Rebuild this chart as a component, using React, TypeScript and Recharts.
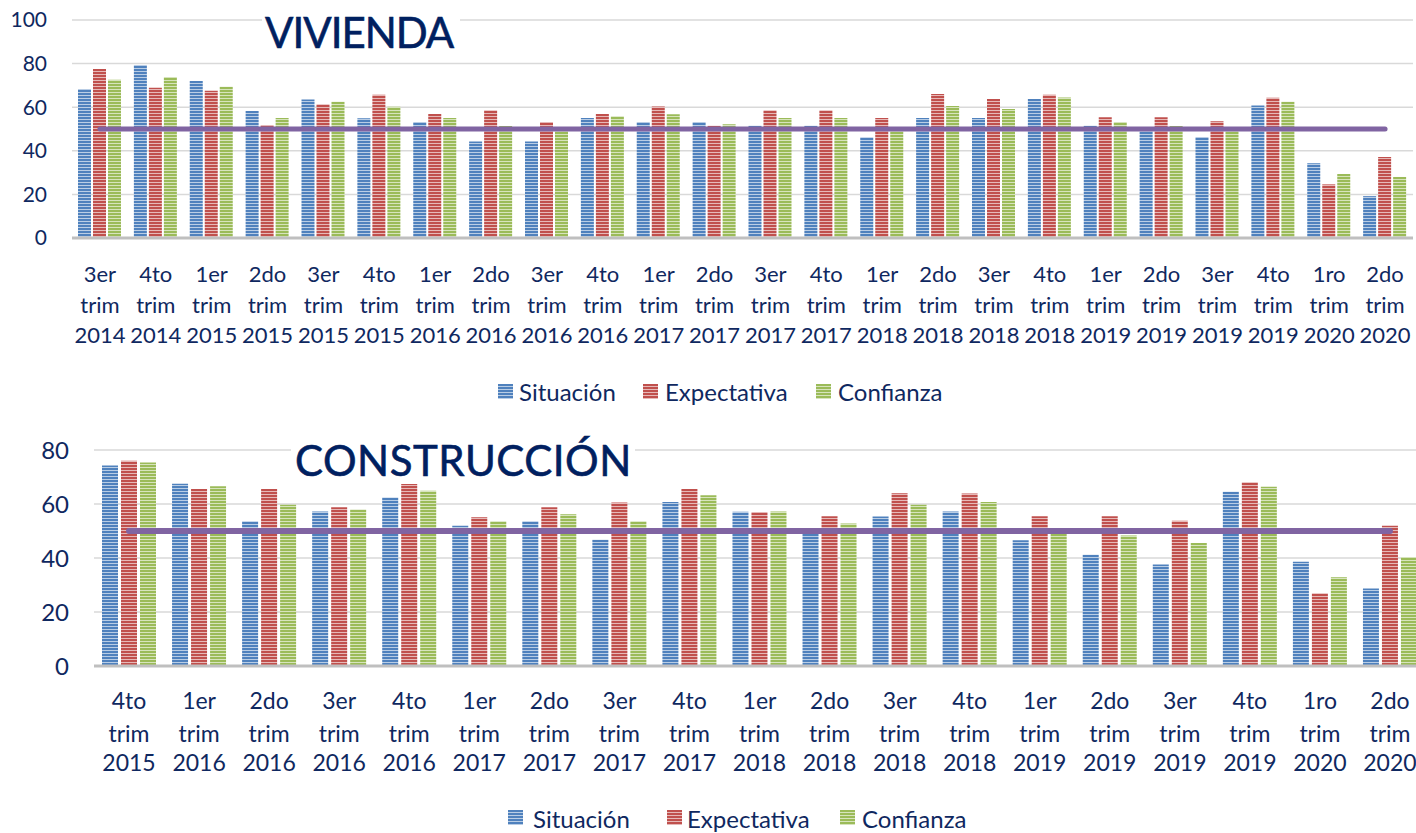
import React from 'react';
import { ComposedChart, Bar, Line, XAxis, YAxis, CartesianGrid } from 'recharts';

// ---------- DATA ----------
const viviendaCategorias = [
  '3er trim 2014', '4to trim 2014', '1er trim 2015', '2do trim 2015', '3er trim 2015', '4to trim 2015',
  '1er trim 2016', '2do trim 2016', '3er trim 2016', '4to trim 2016', '1er trim 2017', '2do trim 2017',
  '3er trim 2017', '4to trim 2017', '1er trim 2018', '2do trim 2018', '3er trim 2018', '4to trim 2018',
  '1er trim 2019', '2do trim 2019', '3er trim 2019', '4to trim 2019', '1ro trim 2020', '2do trim 2020',
];
const viviendaSituacion = [68.3, 79.4, 72.0, 58.3, 63.5, 54.9, 53.2, 44.3, 44.3, 55.1, 53.2, 53.2, 51.5, 51.5, 46.2, 55.1, 55.1, 63.8, 51.5, 49.0, 46.3, 60.8, 34.3, 19.2];
const viviendaExpectativa = [77.5, 68.9, 67.5, 51.8, 61.4, 65.7, 56.9, 58.6, 53.2, 56.9, 60.3, 51.5, 58.6, 58.6, 55.1, 66.0, 63.8, 65.7, 55.4, 55.4, 53.5, 64.3, 24.6, 37.1];
const viviendaConfianza = [72.6, 73.8, 69.4, 55.1, 62.5, 60.2, 55.1, 51.4, 49.0, 55.8, 56.8, 52.2, 55.1, 55.1, 49.0, 60.6, 59.2, 64.5, 53.2, 51.4, 49.0, 62.5, 29.4, 28.0];
const viviendaTicks = [0, 20, 40, 60, 80, 100];

const construccionCategorias = [
  '4to trim 2015', '1er trim 2016', '2do trim 2016', '3er trim 2016', '4to trim 2016', '1er trim 2017',
  '2do trim 2017', '3er trim 2017', '4to trim 2017', '1er trim 2018', '2do trim 2018', '3er trim 2018',
  '4to trim 2018', '1er trim 2019', '2do trim 2019', '3er trim 2019', '4to trim 2019', '1ro trim 2020',
  '2do trim 2020',
];
const construccionSituacion = [74.3, 67.5, 53.6, 57.2, 62.4, 51.9, 53.6, 46.8, 60.7, 57.1, 49.0, 55.4, 57.2, 46.6, 41.2, 37.6, 64.5, 38.6, 28.7];
const construccionExpectativa = [76.0, 65.6, 65.6, 58.8, 67.4, 55.1, 58.8, 60.6, 65.6, 57.0, 55.5, 64.0, 63.9, 55.5, 55.5, 53.8, 68.1, 26.9, 51.9];
const construccionConfianza = [75.4, 66.6, 59.7, 58.0, 64.9, 53.6, 56.2, 53.6, 63.2, 57.2, 52.8, 59.7, 60.7, 50.9, 48.3, 45.6, 66.4, 32.9, 40.4];
const construccionTicks = [0, 20, 40, 60, 80];

const seriesNombres = ['Situación', 'Expectativa', 'Confianza'];
const UMBRAL = 50;

// ---------- STYLE ----------
const FONT = "Lato, 'Open Sans', sans-serif";
const TEXT = '#0F2860';
const TITLE = '#002060';
const seriesColors = [
  { id: 'pB', base: '#4F81BD', light: '#B9CDE5' },
  { id: 'pR', base: '#C0504D', light: '#E6B9B8' },
  { id: 'pG', base: '#9BBB59', light: '#D7E4BD' },
];

const buildRows = (cats: string[], s: number[], e: number[], c: number[]) =>
  cats.map((cat, i) => ({ cat, s: s[i], e: e[i], c: c[i], umbral: UMBRAL }));

const viviendaRows = buildRows(viviendaCategorias, viviendaSituacion, viviendaExpectativa, viviendaConfianza);
const construccionRows = buildRows(construccionCategorias, construccionSituacion, construccionExpectativa, construccionConfianza);

const makeXTick = (fontSize: number, offsets: number[]) => (props: any) => {
  const { x, y, payload } = props;
  const parts = String(payload.value).split(' ');
  return (
    <text x={x} y={y} textAnchor="middle" fill={TEXT} fontSize={fontSize} fontFamily={FONT}>
      {parts.map((p, i) => (
        <tspan key={i} x={x} y={y + offsets[i]}>{p}</tspan>
      ))}
    </text>
  );
};

const viviendaTick = makeXTick(22, [44, 75, 105]);
const construccionTick = makeXTick(23, [43, 76, 105]);

function Legend({ markerX, textX, baseline, markerTop, size }: { markerX: number[]; textX: number[]; baseline: number; markerTop: number; size: number }) {
  return (
    <g>
      {seriesNombres.map((n, i) => (
        <g key={n}>
          <rect x={markerX[i]} y={markerTop} width={15} height={15} fill={`url(#${seriesColors[i].id})`} />
          <text x={textX[i]} y={baseline} fill={TEXT} fontSize={size} fontFamily={FONT}>{n}</text>
        </g>
      ))}
    </g>
  );
}

function Panel({ rows, ticks, domainMax, width, height, margin, yWidth, yFont, tick, barSize, barGap, lineWidth }: any) {
  return (
    <ComposedChart width={width} height={height} data={rows} margin={margin} barSize={barSize} barGap={barGap}>
      <CartesianGrid vertical={false} stroke="#D9D9D9" strokeWidth={1.5} />
      <XAxis
        dataKey="cat"
        interval={0}
        tickLine={false}
        tickSize={0}
        tickMargin={0}
        height={110}
        axisLine={{ stroke: '#BFBFBF', strokeWidth: 3 }}
        tick={tick}
      />
      <YAxis
        domain={[0, domainMax]}
        ticks={ticks}
        axisLine={false}
        tickLine={false}
        tickSize={0}
        tickMargin={25}
        width={yWidth}
        tick={{ fill: TEXT, fontSize: yFont, fontFamily: FONT }}
      />
      <Bar dataKey="s" name={seriesNombres[0]} fill="url(#pB)" isAnimationActive={false} />
      <Bar dataKey="e" name={seriesNombres[1]} fill="url(#pR)" isAnimationActive={false} />
      <Bar dataKey="c" name={seriesNombres[2]} fill="url(#pG)" isAnimationActive={false} />
      <Line
        dataKey="umbral"
        stroke="#8064A2"
        strokeWidth={lineWidth}
        strokeLinecap="round"
        dot={false}
        activeDot={false}
        isAnimationActive={false}
      />
    </ComposedChart>
  );
}

export default function App() {
  return (
    <div style={{ position: 'absolute', left: 0, top: 0, width: 1416, height: 833, background: '#fff', overflow: 'hidden', fontFamily: FONT }}>
      <svg width={0} height={0} style={{ position: 'absolute' }}>
        <defs>
          {seriesColors.map((c) => (
            <pattern key={c.id} id={c.id} patternUnits="userSpaceOnUse" width={8} height={3}>
              <rect x={0} y={0} width={8} height={3} fill={c.light} />
              <rect x={0} y={0} width={8} height={2} fill={c.base} />
            </pattern>
          ))}
        </defs>
      </svg>

      <div style={{ position: 'absolute', left: 0, top: 0 }}>
        <Panel
          rows={viviendaRows}
          ticks={viviendaTicks}
          domainMax={100}
          width={1416}
          height={360}
          margin={{ top: 20, right: 3, left: 0, bottom: 12 }}
          yWidth={72}
          yFont={21}
          tick={viviendaTick}
          barSize={13}
          barGap={2}
          lineWidth={5}
        />
      </div>

      <div style={{ position: 'absolute', left: 0, top: 420, width: 1416, height: 413, overflow: 'hidden' }}>
        <Panel
          rows={construccionRows}
          ticks={construccionTicks}
          domainMax={80}
          width={1426}
          height={380}
          margin={{ top: 30, right: 1, left: 0, bottom: 24 }}
          yWidth={94}
          yFont={24}
          tick={construccionTick}
          barSize={16}
          barGap={3}
          lineWidth={6}
        />
      </div>

      <svg width={1416} height={833} style={{ position: 'absolute', left: 0, top: 0, pointerEvents: 'none' }}>
        <rect x={262} y={10} width={198} height={42} fill="#fff" />
        <text x={265} y={48} fill={TITLE} fontSize={42} fontFamily={FONT} letterSpacing={-1} stroke={TITLE} strokeWidth={0.6}>VIVIENDA</text>
        <rect x={291} y={438} width={344} height={42} fill="#fff" />
        <text x={295} y={476} fill={TITLE} fontSize={42} fontFamily={FONT} letterSpacing={0.5} stroke={TITLE} strokeWidth={0.6}>CONSTRUCCIÓN</text>
        <Legend markerX={[498, 643, 816]} textX={[519, 665, 838]} baseline={401} markerTop={384} size={24} />
        <Legend markerX={[508, 667, 840]} textX={[533, 687, 862]} baseline={828} markerTop={810} size={24} />
      </svg>
    </div>
  );
}
